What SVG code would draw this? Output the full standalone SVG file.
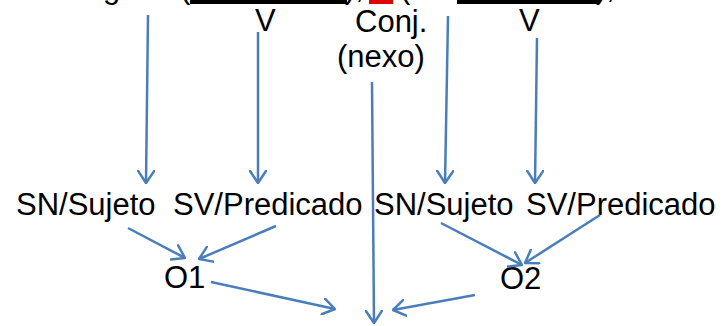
<svg xmlns="http://www.w3.org/2000/svg" width="724" height="326" viewBox="0 0 724 326">
<style>
text{font-family:"Liberation Sans",Arial,sans-serif;font-size:31px;fill:#000}
.c{stroke:#4A7EBB;stroke-width:2.5;fill:none;marker-end:url(#ah)}
</style>
<defs>
<marker id="ah" markerUnits="userSpaceOnUse" viewBox="0 0 14 18" refX="13" refY="9" markerWidth="14" markerHeight="18" orient="auto">
<path d="M1,1 L13,9 L1,17" fill="none" stroke="#4A7EBB" stroke-width="2.5" stroke-linecap="round" stroke-linejoin="round"/>
</marker>
</defs>
<rect width="724" height="326" fill="#fff"/>
<g id="top-line">
<text x="103" y="-2">g</text>
<text x="180" y="-2">(</text>
<rect x="190" y="0" width="157" height="4" fill="#000"/>
<text x="345" y="-2">),</text>
<rect x="369" y="0" width="24" height="4" fill="#E00000"/>
<text x="400" y="-2">(</text>
<rect x="457" y="0" width="143" height="4" fill="#000"/>
<text x="596" y="-2">),</text>
</g>
<g id="v1"><text x="255" y="31">V</text></g>
<g id="conj"><text x="355" y="32">Conj.</text><text x="337" y="67">(nexo)</text></g>
<g id="v2"><text x="519" y="31">V</text></g>
<g id="sn1"><text x="16" y="215">SN/Sujeto</text></g>
<g id="sv1"><text x="173" y="215">SV/Predicado</text></g>
<g id="sn2"><text x="374" y="215">SN/Sujeto</text></g>
<g id="sv2"><text x="526" y="215">SV/Predicado</text></g>
<g id="o1"><text x="164" y="288">O1</text></g>
<g id="o2"><text x="500" y="289">O2</text></g>
<g id="connectors">
<line class="c" x1="148" y1="15" x2="146" y2="183"/>
<line class="c" x1="258" y1="32" x2="258" y2="183"/>
<line class="c" x1="372" y1="82" x2="374" y2="323"/>
<line class="c" x1="448" y1="16" x2="445" y2="183"/>
<line class="c" x1="537" y1="38" x2="535" y2="183"/>
<line class="c" x1="128" y1="228" x2="185" y2="258"/>
<line class="c" x1="276" y1="226" x2="199" y2="259"/>
<line class="c" x1="211" y1="282" x2="335" y2="309"/>
<line class="c" x1="441" y1="223" x2="522" y2="265"/>
<line class="c" x1="600" y1="215" x2="525" y2="263"/>
<line class="c" x1="475" y1="295" x2="393" y2="310"/>
</g>
</svg>
